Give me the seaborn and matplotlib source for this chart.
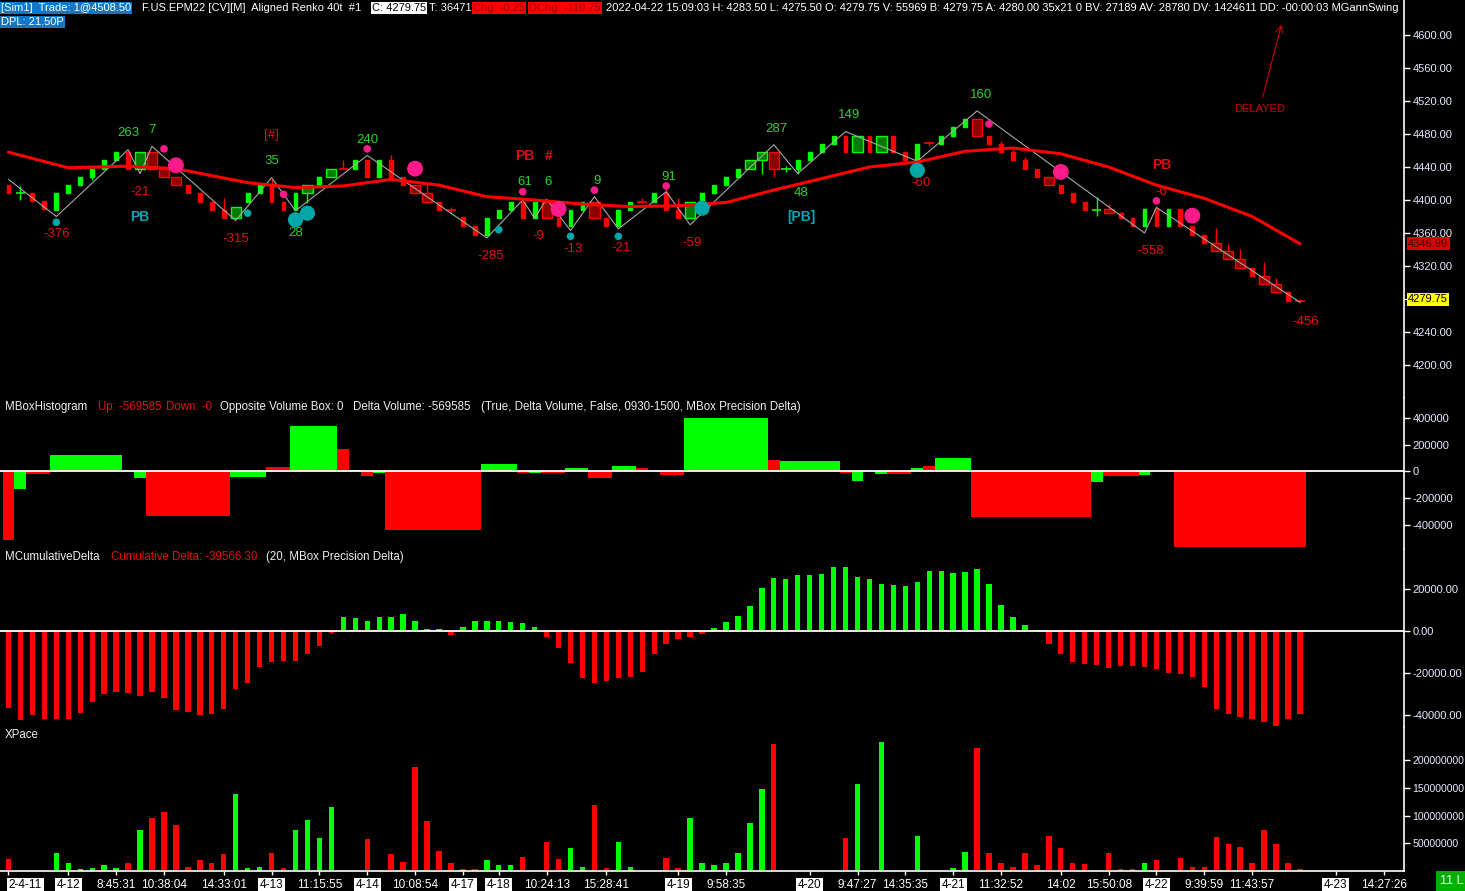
import numpy as np
import pandas as pd
import matplotlib.pyplot as plt
import matplotlib.transforms as mtransforms
import seaborn as sns

W, H = 1465, 891

# ---- renko bricks (F.US.EPM22, Aligned Renko 40t), one entry per bar ----
opens = [4418, 4408, 4409, 4399, 4388, 4408, 4418, 4428, 4438, 4448,
         4458, 4438, 4458, 4438, 4428, 4418, 4408, 4398, 4388, 4378,
         4398, 4408, 4418, 4398, 4388, 4408, 4418, 4428, 4438, 4438,
         4448, 4428, 4448, 4428, 4418, 4408, 4398, 4388, 4379, 4368,
         4357, 4378, 4388, 4398, 4378, 4398, 4378, 4368, 4388, 4398,
         4378, 4368, 4388, 4398, 4398, 4408, 4388, 4378, 4398, 4408,
         4418, 4428, 4438, 4448, 4458, 4438, 4438, 4448, 4458, 4468,
         4478, 4458, 4478, 4458, 4478, 4458, 4448, 4469, 4468, 4478,
         4488, 4498, 4478, 4468, 4458, 4448, 4438, 4428, 4418, 4408,
         4398, 4388, 4389, 4384, 4378, 4368, 4389, 4368, 4389, 4368,
         4358, 4348, 4338, 4328, 4318, 4308, 4298, 4288, 4278]
closes = [4408, 4408, 4399, 4389, 4408, 4418, 4428, 4437, 4448, 4458,
          4438, 4458, 4438, 4428, 4418, 4408, 4398, 4388, 4378, 4392,
          4408, 4418, 4398, 4388, 4408, 4418, 4428, 4438, 4438, 4448,
          4428, 4448, 4428, 4418, 4408, 4398, 4388, 4388, 4368, 4357,
          4378, 4388, 4398, 4378, 4398, 4378, 4368, 4388, 4398, 4378,
          4368, 4388, 4398, 4398, 4408, 4388, 4378, 4398, 4408, 4418,
          4428, 4438, 4448, 4458, 4438, 4438, 4448, 4458, 4468, 4478,
          4458, 4478, 4458, 4478, 4458, 4448, 4468, 4469, 4478, 4488,
          4498, 4478, 4468, 4458, 4448, 4438, 4428, 4418, 4408, 4398,
          4388, 4388, 4384, 4378, 4368, 4389, 4368, 4389, 4368, 4358,
          4348, 4338, 4328, 4318, 4308, 4298, 4288, 4278, 4278]
doji_up = {1: True, 28: False, 37: False, 53: False, 65: True, 77: False, 91: True, 108: False}
wick_hi = {1: 4417, 18: 4402, 22: 4426, 28: 4448, 32: 4454, 35: 4420, 37: 4392, 53: 4402,
           55: 4414, 56: 4403, 65: 4441, 77: 4472, 83: 4472, 84: 4462, 85: 4452, 91: 4404,
           92: 4395, 93: 4386, 101: 4366, 102: 4347, 103: 4341, 105: 4325, 106: 4305,
           107: 4290, 108: 4280}
wick_lo = {1: 4400, 7: 4424, 25: 4396, 37: 4384, 53: 4396, 63: 4432, 64: 4428, 65: 4434,
           66: 4432, 77: 4465, 91: 4380, 108: 4275}
wide_bars = [11, 12, 13, 14, 19, 25, 27, 34, 35, 45, 49, 57, 62, 63, 64, 71, 73, 81, 87,
             92, 101, 102, 103, 105, 106]

# moving average (sampled) and swing zigzag
ma_bars = [0, 5, 10, 14, 20, 24, 28, 32, 36, 40, 44, 48, 52, 56, 60, 64, 68, 72, 76,
           80, 84, 88, 92, 96, 100, 104, 108]
ma_vals = [4458, 4439, 4441, 4438, 4421, 4415, 4417, 4425, 4418, 4404, 4400, 4395, 4392,
           4393, 4397, 4412, 4426, 4440, 4446, 4459, 4463, 4456, 4440, 4418, 4402, 4380, 4347]
zz_bars = [0, 4, 10, 11, 12, 19, 22, 24, 30, 40, 43, 44, 45, 47, 49, 51, 55, 57, 64, 66,
           70, 76, 81, 95, 96, 108]
zz_vals = [4425, 4380, 4461, 4432, 4465, 4375, 4427, 4387, 4454, 4354, 4400, 4378, 4401,
           4363, 4404, 4365, 4410, 4370, 4467, 4432, 4483, 4447, 4508, 4360, 4391, 4276]

# swing dots
cyan_small = [(4, 4373), (20, 4384), (41, 4364), (47, 4356), (51, 4356)]
cyan_big = [(24, 4376), (25, 4384), (58, 4390), (76, 4436)]
pink_small = [(13, 4462), (23, 4407), (30, 4462), (43, 4410), (49, 4412), (55, 4417),
              (82, 4492), (96, 4399)]
pink_big = [(14, 4442), (34, 4438), (46, 4389), (88, 4434), (99, 4381)]

# swing labels: bar, price, text, kind
swing_labels = [
    (4, 4359, "-376", "dn"), (10, 4481, "263", "up"), (12, 4485, "7", "up"),
    (11, 4410, "-21", "dn"), (11, 4379, "PB", "pbc"), (22, 4479, "[#]", "hash"),
    (22, 4447, "35", "up"), (19, 4353, "-315", "dn"), (24, 4360, "28", "up"),
    (30, 4473, "240", "up"), (40.3, 4332, "-285", "dn"), (43.2, 4453, "PB", "pbr"),
    (45.2, 4453, "#", "pbr"), (43.2, 4422, "61", "up"), (45.1, 4422, "6", "up"),
    (44.3, 4356, "-9", "dn"), (49.2, 4423, "9", "up"), (47.2, 4341, "-13", "dn"),
    (55.2, 4428, "91", "up"), (51.2, 4342, "-21", "dn"), (57.2, 4348, "-59", "dn"),
    (64.2, 4486, "287", "up"), (66.3, 4408, "48", "up"), (66.3, 4379, "[PB]", "pbc"),
    (70.3, 4503, "149", "up"), (76.3, 4421, "-60", "dn"), (81.3, 4527, "160", "up"),
    (96.4, 4442, "PB", "pbr"), (96.4, 4410, "-6", "dn"), (95.5, 4338, "-558", "dn"),
    (108.5, 4252, "-456", "dn"),
]

# MBoxHistogram boxes
box_start = [0, 1, 2, 4, 11, 12, 19, 22, 24, 28, 29, 30, 31, 32, 40, 43, 44, 45, 47, 49,
             51, 53, 55, 57, 64, 65, 70, 71, 73, 74, 76, 77, 78, 81, 91, 92, 95, 98]
box_end = [0, 1, 3, 9, 11, 18, 21, 23, 27, 28, 29, 30, 31, 39, 42, 43, 44, 46, 48, 50,
           52, 53, 56, 63, 64, 69, 70, 71, 73, 75, 76, 77, 80, 90, 91, 94, 95, 108]
box_value = [-515000, -132000, -20000, 122500, -50000, -332500, -42500, 32500, 340000, 170000,
             7500, -32500, -10000, -440000, 55000, -10000, -12500, -10000, 25000, -50000,
             40000, 25000, -27500, 402500, 85000, 78000, -10000, -73000, -17500, -17500,
             25000, 40000, 100000, -342000, -78000, -32500, -25000, -569585]
box_up = [0, 1, 0, 1, 1, 0, 1, 0, 1, 0, 1, 0, 1, 0, 1, 0, 1, 0, 1, 0,
          1, 0, 0, 1, 0, 1, 0, 1, 1, 0, 1, 0, 1, 0, 1, 0, 1, 0]

# MCumulativeDelta per bar
cum_delta = [-36500, -42400, -40000, -41900, -41900, -41900, -39000, -33800, -30000, -29000,
             -29500, -31000, -29000, -31900, -37600, -38600, -40000, -39500, -37100, -27600,
             -24800, -17100, -14800, -14300, -14300, -11000, -7100, -1000, 6700, 6200,
             4800, 6700, 6700, 8100, 4800, 1000, 1000, -1900, 1900, 4800,
             4800, 4800, 4300, 3800, 1900, -2900, -8100, -15200, -22400, -24800,
             -23800, -22400, -21900, -19500, -11000, -6200, -3800, -2900, -1400, 1400,
             4300, 7100, 11900, 20500, 25200, 24800, 26700, 26700, 27100, 30500,
             30500, 25700, 24800, 22400, 21900, 21400, 23300, 28600, 28600, 27600,
             28100, 29500, 22400, 12400, 6700, 2900, 500, -6200, -11000, -14800,
             -15700, -16200, -17600, -16700, -16700, -17100, -18100, -20000, -20500, -21900,
             -26700, -37100, -39500, -41000, -41900, -43300, -45200, -41900, -39566]

# XPace per bar (millions)
xpace_m = [21, 0, 0, 0, 32, 14, 4.5, 6, 10, 6, 15, 75, 95, 106, 84, 8, 19, 15, 30, 140,
           6, 8, 32, 6, 75, 93, 59, 115, 0, 0, 57, 0, 30, 17, 188, 90, 37, 14, 4.5, 4.5,
           19, 10, 10, 26, 0, 52, 21, 41, 8, 119, 6, 52, 8, 0, 0, 23, 6, 95, 15, 10,
           15, 33, 86, 148, 230, 0, 0, 0, 0, 0, 59, 157, 0, 233, 0, 0, 64, 0, 0, 6,
           35, 222, 33, 15, 8, 33, 10, 64, 41, 15, 12, 0, 32, 4.5, 4.5, 15, 19, 0, 24, 8,
           8, 61, 48, 44, 15, 75, 48, 14, 4.5]

# time axis
xtick_bars = [0, 5, 9, 13, 18, 22, 26, 30, 34, 38, 41, 45, 50, 56, 60, 67, 71, 75, 79,
              83, 88, 92, 96, 100, 104, 111, 115]
xtick_text = ['2-4-11', '4-12', '8:45:31', '10:38:04', '14:33:01', '4-13', '11:15:55', '4-14',
              '10:08:54', '4-17', '4-18', '10:24:13', '15:28:41', '4-19', '9:58:35', '4-20',
              '9:47:27', '14:35:35', '4-21', '11:32:52', '14:02', '15:50:08', '4-22',
              '9:39:59', '11:43:57', '4-23', '14:27:26']

GREEN, RED = '#00ff00', '#ff0000'
DKGREEN, DKRED = '#007a00', '#8b0000'
PINK, CYAN = '#ff1a8c', '#00a6a8'
TXT_UP, TXT_DN = '#2fd12f', '#e51010'

sns.set_theme(style="dark", rc={'axes.facecolor': 'black', 'figure.facecolor': 'black'})
plt.rcParams['font.family'] = ['Liberation Sans', 'DejaVu Sans']

n = len(opens)
bars = np.arange(n)
df = pd.DataFrame({'bar': bars, 'open': opens, 'close': closes})
df['up'] = [doji_up.get(i, c > o) for i, (o, c) in enumerate(zip(opens, closes))]
df['doji'] = df['bar'].isin(list(doji_up.keys()))
df['wide'] = df['bar'].isin(wide_bars)
df['lo'] = [wick_lo.get(i, min(o, c)) for i, (o, c) in enumerate(zip(opens, closes))]
df['hi'] = [wick_hi.get(i, max(o, c)) for i, (o, c) in enumerate(zip(opens, closes))]

XMIN, XMAX = -0.71, 116.7
fig = plt.figure(figsize=(W / 100, H / 100), dpi=100, facecolor='black')


def panel(top, bottom):
    return fig.add_axes([0, 1 - bottom / H, 1404 / W, (bottom - top) / H])


def style_axis(ax, ticks, labels, size=8):
    ax.set_facecolor('black')
    ax.grid(False)
    for side in ['top', 'left', 'bottom']:
        ax.spines[side].set_visible(False)
    ax.spines['right'].set_color('white')
    ax.spines['right'].set_linewidth(1.2)
    ax.yaxis.tick_right()
    ax.set_yticks(ticks, labels)
    ax.tick_params(axis='y', colors='white', labelcolor='#e4ebff', labelsize=size,
                   length=4, width=1, pad=2, right=True, left=False)
    ax.set_xticks([])
    ax.set_xlim(XMIN, XMAX)
    ax.set_xlabel('')
    ax.set_ylabel('')


def ftext(x, y, s, color, size=8, bg=None, weight='normal', pad=0.12):
    kw = {}
    if bg:
        kw['bbox'] = dict(boxstyle=f'square,pad={pad}', fc=bg, ec='none')
    fig.text(x / W, 1 - y / H, s, color=color, fontsize=size, ha='left', va='center',
             fontweight=weight, **kw)


# ---------------- price panel ----------------
ax = panel(0, 398)
ax.set_ylim(4160.0, 4642.4)

body = df[~df['doji']]
for up in [True, False]:
    for wide in [False, True]:
        d = body[(body['up'] == up) & (body['wide'] == wide)]
        bright = GREEN if up else RED
        fill = (DKGREEN if up else DKRED) if wide else bright
        ax.vlines(d['bar'], d['lo'], d['hi'], color=bright, lw=1, zorder=2)
        ax.bar(d['bar'], (d['close'] - d['open']).abs(), bottom=d[['open', 'close']].min(axis=1),
               width=0.85 if wide else 0.32, color=fill, edgecolor=bright, linewidth=1, zorder=3)
dj = df[df['doji']]
for up in [True, False]:
    d = dj[dj['up'] == up]
    c = GREEN if up else RED
    ax.vlines(d['bar'], d['lo'], d['hi'], color=c, lw=1, zorder=3)
    ax.hlines(d['open'], d['bar'] - 0.4, d['bar'] + 0.4, color=c, lw=1.2, zorder=3)

sns.lineplot(x=zz_bars, y=zz_vals, ax=ax, color='#a8a8a8', lw=0.8, sort=False, zorder=4)
sns.lineplot(x=ma_bars, y=ma_vals, ax=ax, color=RED, lw=2.2, sort=False, zorder=4)

for pts, col, size in [(cyan_small, CYAN, 30), (cyan_big, CYAN, 120),
                       (pink_small, PINK, 30), (pink_big, PINK, 130)]:
    sns.scatterplot(x=[p[0] for p in pts], y=[p[1] for p in pts], ax=ax, color=col, s=size,
                    edgecolor='none', legend=False, zorder=5)

label_style = {'up': (TXT_UP, 'normal', 9.5), 'dn': (TXT_DN, 'normal', 9.5),
               'pbc': ('#00a8b8', 'bold', 10), 'pbr': ('#d81010', 'bold', 10),
               'hash': ('#d81010', 'normal', 9.5)}
for b, p, s, kind in swing_labels:
    col, wt, fs = label_style[kind]
    ax.text(b, p, s, color=col, fontweight=wt, fontsize=fs, ha='center', va='center', zorder=6)

price_ticks = list(range(4200, 4601, 40))
# the 4280 label sits under the last-price box, as on the platform
style_axis(ax, price_ticks, ['' if v == 4280 else f"{v:.2f}" for v in price_ticks])
tr = mtransforms.blended_transform_factory(ax.transAxes, ax.transData)
ax.text(1.003, 4346.99, "4346.99", transform=tr, color='#3a0000', fontsize=8,
        ha='left', va='center', clip_on=False, zorder=10,
        bbox=dict(boxstyle='square,pad=0.12', fc='#e00000', ec='none'))
ax.text(1.003, 4279.75, "4279.75", transform=tr, color='black', fontsize=8,
        ha='left', va='center', clip_on=False, zorder=10,
        bbox=dict(boxstyle='square,pad=0.12', fc='#ffff00', ec='none'))

# ---------------- MBoxHistogram ----------------
ax2 = panel(398, 549)
ax2.set_ylim(-583000, 550000)
bs = np.array(box_start)
be = np.array(box_end)
ax2.bar(bs - 0.5, box_value, width=be - bs + 1, align='edge',
        color=[GREEN if u else RED for u in box_up], linewidth=0, zorder=2)
ax2.axhline(0, color='white', lw=1.3, zorder=3)
style_axis(ax2, [-400000, -200000, 0, 200000, 400000],
           ['-400000', '-200000', '0', '200000', '400000'])

# ---------------- MCumulativeDelta ----------------
ax3 = panel(549, 727)
ax3.set_ylim(-45570, 39190)
ax3.bar(bars, cum_delta, width=0.45, color=[GREEN if v > 0 else RED for v in cum_delta],
        linewidth=0, zorder=2)
ax3.axhline(0, color='white', lw=1.3, zorder=3)
style_axis(ax3, [-40000, -20000, 0, 20000],
           ['-40000.00', '-20000.00', '0.00', '20000.00'])

# ---------------- XPace ----------------
ax4 = panel(727, 871)
ax4.set_ylim(0, 260.3e6)
ax4.bar(bars, np.array(xpace_m) * 1e6, width=0.45,
        color=[GREEN if u else RED for u in df['up']], linewidth=0, zorder=2)
style_axis(ax4, [50e6, 100e6, 150e6, 200e6],
           ['50000000', '100000000', '150000000', '200000000'], size=7.6)
ax4.spines['bottom'].set_visible(True)
ax4.spines['bottom'].set_color('white')
ax4.spines['bottom'].set_linewidth(1.2)
ax4.set_xticks(xtick_bars, xtick_text)
ax4.tick_params(axis='x', colors='white', labelcolor='white', labelsize=8.5, length=3,
                width=1, pad=3, bottom=True)
for lbl in ax4.get_xticklabels():
    if '-' in lbl.get_text():
        lbl.set_color('black')
        lbl.set_bbox(dict(boxstyle='square,pad=0.15', fc='white', ec='none'))
ax4.get_xticklabels()[0].set_horizontalalignment('left')

# ---------------- header and panel titles ----------------
ftext(1, 8, "[Sim1]  Trade: 1@4508.50", 'white', bg='#0f78c8')
ftext(142, 8, "F.US.EPM22 [CV][M]  Aligned Renko 40t  #1", 'white')
ftext(372, 8, "C: 4279.75", 'black', bg='white')
ftext(429, 8, "T: 36471", 'white')
ftext(473, 8, "Chg: -0.25", '#9a0000', bg='#ff0000')
ftext(529, 8, "DChg: -110.75", '#9a0000', bg='#ff0000')
ftext(606, 8, "2022-04-22 15:09:03 H: 4283.50 L: 4275.50 O: 4279.75 V: 55969 B: 4279.75 "
              "A: 4280.00 35x21 0 BV: 27189 AV: 28780 DV: 1424611 DD: -00:00:03 MGannSwing",
      'white')
ftext(1, 22, "DPL: 21.50P", 'white', bg='#0f78c8')

ftext(1234, 109, "DELAYED", '#cc0000')
ax.annotate('', xy=(1282, H - 22), xytext=(1262, H - 100), xycoords='figure pixels',
            textcoords='figure pixels',
            arrowprops=dict(arrowstyle='->', color='#cc0000', lw=0.8))

ftext(5, 407, "MBoxHistogram", '#f0f0f0', size=8.3)
ftext(98, 407, "Up: -569585", '#e01010', size=8.3)
ftext(166, 407, "Down: -0", '#e01010', size=8.3)
ftext(220, 407, "Opposite Volume Box: 0", '#f0f0f0', size=8.3)
ftext(353, 407, "Delta Volume: -569585", '#f0f0f0', size=8.3)
ftext(481, 407, "(True, Delta Volume, False, 0930-1500, MBox Precision Delta)", '#f0f0f0', size=8.3)

ftext(5, 557, "MCumulativeDelta", '#f0f0f0', size=8.3)
ftext(111, 557, "Cumulative Delta: -39566.30", '#e01010', size=8.3)
ftext(266, 557, "(20, MBox Precision Delta)", '#f0f0f0', size=8.3)

ftext(5, 735, "XPace", '#f0f0f0', size=8.3)
ftext(1440, 881, "11 L", 'white', size=9, bg='#00b000', pad=0.3)

fig.savefig('out.png', dpi=100, facecolor='black')
